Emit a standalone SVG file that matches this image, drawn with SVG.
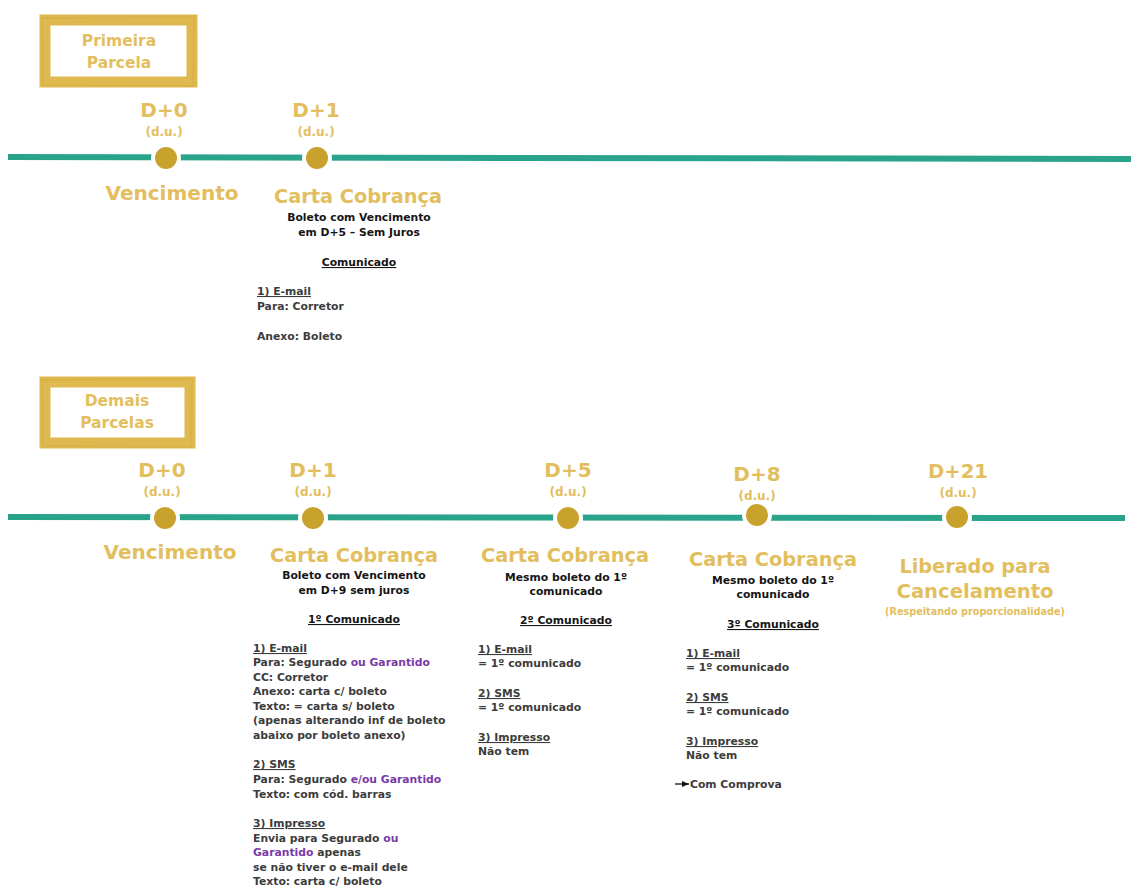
<svg xmlns="http://www.w3.org/2000/svg" width="1131" height="886" viewBox="0 0 1131 886">
<style>
text{font-family:"DejaVu Sans","Verdana",sans-serif;font-weight:bold}
.day{fill:#e3be5e;font-size:20px;text-anchor:middle}
.du{fill:#e3be5e;font-size:12px;text-anchor:middle}
.big{fill:#e3be5e;font-size:20px;text-anchor:middle}
.lbl{fill:#e3be5e;font-size:15.5px;text-anchor:middle}
.sub{fill:#151515;font-size:10.8px;text-anchor:middle}
.com{fill:#151515;font-size:10.8px;text-anchor:middle;text-decoration:underline}
.body{fill:#3c3c3c;font-size:10.8px}
.hd{fill:#3c3c3c;font-size:10.8px;text-decoration:underline}
.pur{fill:#7a3aa8}
.frame{fill:#fff;stroke:#dfb950;stroke-width:11}
.brush{fill:none;stroke:#cfa83c;stroke-width:2;stroke-opacity:0.35}
.dot{fill:#c9a22e;stroke:#fff;stroke-width:4}
.tl{stroke:#2aa38b;stroke-width:6;fill:none}
</style>
<defs>
<marker id="ah" markerWidth="8" markerHeight="8" refX="7" refY="4" orient="auto" markerUnits="userSpaceOnUse">
<path d="M0,1 L7,4 L0,7 Z" fill="#111"/>
</marker>
</defs>
<rect width="1131" height="886" fill="#fff"/>

<g id="connectors">
<path class="tl" d="M8,157 L1131,159"/>
<path class="tl" d="M8,517 L1125,518"/>
</g>

<g id="label-primeira">
<rect class="frame" x="45" y="20" width="147" height="62"/>
<path class="brush" d="M41,18 L195,17 M42,85 L194,86 M42,17 L43,86 M194,18 L193,85"/>
<text class="lbl" x="119" y="46">Primeira</text>
<text class="lbl" x="119" y="68">Parcela</text>
</g>

<g id="p1-d0">
<circle class="dot" cx="166" cy="158" r="13"/>
<text class="day" x="164" y="117">D+0</text>
<text class="du" x="164" y="136">(d.u.)</text>
<text class="big" x="172" y="200" textLength="133" lengthAdjust="spacingAndGlyphs">Vencimento</text>
</g>

<g id="p1-d1">
<circle class="dot" cx="317" cy="158" r="13"/>
<text class="day" x="316" y="117">D+1</text>
<text class="du" x="316" y="136">(d.u.)</text>
<text class="big" x="358" y="203" textLength="168" lengthAdjust="spacingAndGlyphs">Carta Cobrança</text>
<text class="sub" x="359" y="221">Boleto com Vencimento</text>
<text class="sub" x="359" y="236">em D+5 – Sem Juros</text>
<text class="com" x="359" y="266">Comunicado</text>
<text class="hd" x="257" y="295">1) E-mail</text>
<text class="body" x="257" y="310">Para: Corretor</text>
<text class="body" x="257" y="340">Anexo: Boleto</text>
</g>

<g id="label-demais">
<rect class="frame" x="45" y="382" width="145" height="61"/>
<path class="brush" d="M41,380 L193,379 M42,446 L192,447 M42,379 L43,447 M192,380 L191,446"/>
<text class="lbl" x="117" y="406">Demais</text>
<text class="lbl" x="117" y="428">Parcelas</text>
</g>

<g id="p2-d0">
<circle class="dot" cx="165" cy="518" r="13"/>
<text class="day" x="162" y="477">D+0</text>
<text class="du" x="162" y="496">(d.u.)</text>
<text class="big" x="170" y="559" textLength="133" lengthAdjust="spacingAndGlyphs">Vencimento</text>
</g>

<g id="p2-d1">
<circle class="dot" cx="313" cy="518" r="13"/>
<text class="day" x="313" y="477">D+1</text>
<text class="du" x="313" y="496">(d.u.)</text>
<text class="big" x="354" y="562" textLength="168" lengthAdjust="spacingAndGlyphs">Carta Cobrança</text>
<text class="sub" x="354" y="579">Boleto com Vencimento</text>
<text class="sub" x="354" y="594">em D+9 sem juros</text>
<text class="com" x="354" y="623">1º Comunicado</text>
<text class="hd" x="253" y="652">1) E-mail</text>
<text class="body" x="253" y="666">Para: Segurado <tspan class="pur">ou Garantido</tspan></text>
<text class="body" x="253" y="681">CC: Corretor</text>
<text class="body" x="253" y="695">Anexo: carta c/ boleto</text>
<text class="body" x="253" y="710">Texto: = carta s/ boleto</text>
<text class="body" x="253" y="724">(apenas alterando inf de boleto</text>
<text class="body" x="253" y="739">abaixo por boleto anexo)</text>
<text class="hd" x="253" y="768">2) SMS</text>
<text class="body" x="253" y="783">Para: Segurado <tspan class="pur">e/ou Garantido</tspan></text>
<text class="body" x="253" y="798">Texto: com cód. barras</text>
<text class="hd" x="253" y="827">3) Impresso</text>
<text class="body" x="253" y="842">Envia para Segurado <tspan class="pur">ou</tspan></text>
<text class="body" x="253" y="856"><tspan class="pur">Garantido</tspan> apenas</text>
<text class="body" x="253" y="871">se não tiver o e-mail dele</text>
<text class="body" x="253" y="885">Texto: carta c/ boleto</text>
</g>

<g id="p2-d5">
<circle class="dot" cx="568" cy="518" r="13"/>
<text class="day" x="568" y="477">D+5</text>
<text class="du" x="568" y="496">(d.u.)</text>
<text class="big" x="565" y="562" textLength="168" lengthAdjust="spacingAndGlyphs">Carta Cobrança</text>
<text class="sub" x="566" y="581">Mesmo boleto do 1º</text>
<text class="sub" x="566" y="595">comunicado</text>
<text class="com" x="566" y="624">2º Comunicado</text>
<text class="hd" x="478" y="653">1) E-mail</text>
<text class="body" x="478" y="667">= 1º comunicado</text>
<text class="hd" x="478" y="697">2) SMS</text>
<text class="body" x="478" y="711">= 1º comunicado</text>
<text class="hd" x="478" y="741">3) Impresso</text>
<text class="body" x="478" y="755">Não tem</text>
</g>

<g id="p2-d8">
<circle class="dot" cx="757" cy="515" r="13"/>
<text class="day" x="757" y="481">D+8</text>
<text class="du" x="757" y="500">(d.u.)</text>
<text class="big" x="773" y="566" textLength="168" lengthAdjust="spacingAndGlyphs">Carta Cobrança</text>
<text class="sub" x="773" y="584">Mesmo boleto do 1º</text>
<text class="sub" x="773" y="598">comunicado</text>
<text class="com" x="773" y="628">3º Comunicado</text>
<text class="hd" x="686" y="657">1) E-mail</text>
<text class="body" x="686" y="671">= 1º comunicado</text>
<text class="hd" x="686" y="701">2) SMS</text>
<text class="body" x="686" y="715">= 1º comunicado</text>
<text class="hd" x="686" y="745">3) Impresso</text>
<text class="body" x="686" y="759">Não tem</text>
<path d="M675,784 L689,784" stroke="#111" stroke-width="1.3" marker-end="url(#ah)"/>
<text class="body" x="690" y="788">Com Comprova</text>
</g>

<g id="p2-d21">
<circle class="dot" cx="957" cy="517" r="13"/>
<text class="day" x="958" y="478" textLength="60" lengthAdjust="spacingAndGlyphs">D+21</text>
<text class="du" x="958" y="497">(d.u.)</text>
<text class="big" x="975" y="573" textLength="151" lengthAdjust="spacingAndGlyphs">Liberado para</text>
<text class="big" x="975" y="598" textLength="157" lengthAdjust="spacingAndGlyphs">Cancelamento</text>
<text class="du" x="975" y="615" style="font-size:10px" textLength="180" lengthAdjust="spacingAndGlyphs">(Respeitando proporcionalidade)</text>
</g>
</svg>
